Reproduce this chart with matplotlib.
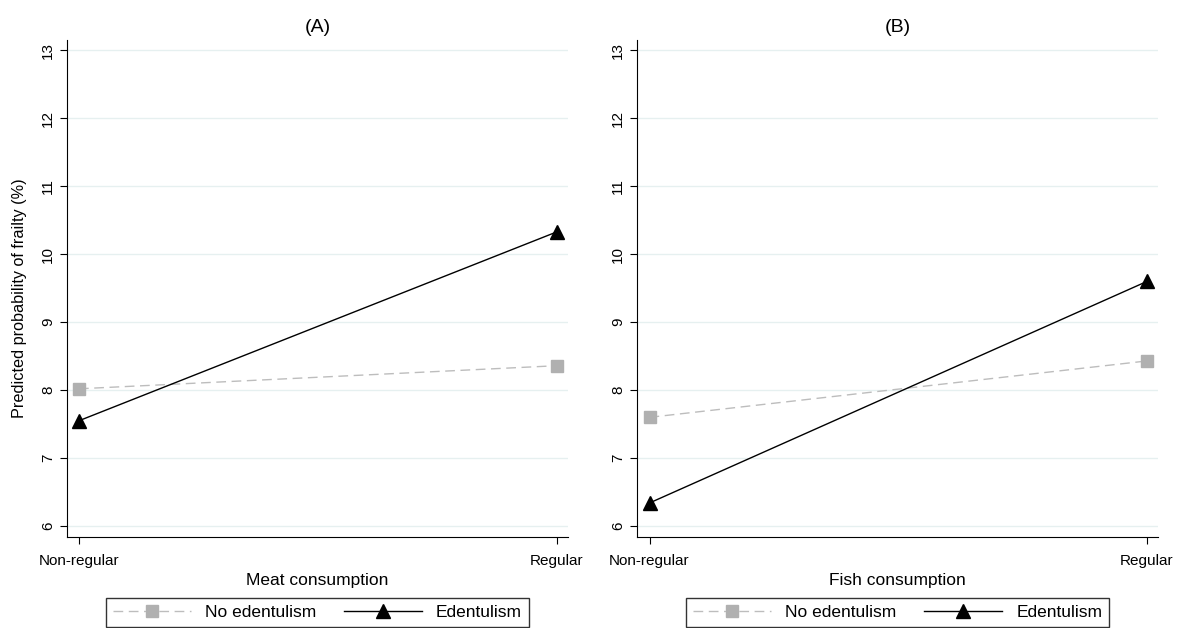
import matplotlib.pyplot as plt

plt.rcParams['font.family'] = ['Liberation Sans', 'DejaVu Sans']

categories = ['Non-regular', 'Regular']
yticks = [6, 7, 8, 9, 10, 11, 12, 13]

# predicted probability of frailty (%)
meat_no_edent = [8.02, 8.36]
meat_edent = [7.55, 10.33]
fish_no_edent = [7.60, 8.43]
fish_edent = [6.34, 9.60]

panels = [
    ('(A)', 'Meat consumption', meat_no_edent, meat_edent),
    ('(B)', 'Fish consumption', fish_no_edent, fish_edent),
]

fig = plt.figure(figsize=(11.82, 6.28), dpi=100)
axes = [fig.add_axes([0.0567, 0.145, 0.4238, 0.791]),
        fig.add_axes([0.539, 0.145, 0.441, 0.791])]

x = [0, 1]
for i, (ax, (title, xlabel, no_e, e)) in enumerate(zip(axes, panels)):
    ax.plot(x, no_e, color='#bdbdbd', ls=(0, (7, 4)), lw=1.0, marker='s',
            markersize=9, markerfacecolor='#b0b0b0', markeredgecolor='#b0b0b0',
            label='No edentulism', zorder=3)
    ax.plot(x, e, color='black', lw=1.0, marker='^', markersize=10,
            label='Edentulism', zorder=4)
    ax.set_xlim(-0.025, 1.023)
    ax.set_ylim(5.84, 13.15)
    ax.set_yticks(yticks)
    ax.set_xticks(x)
    ax.set_xticklabels(categories, fontsize=11)
    ax.tick_params(axis='y', labelrotation=90, labelsize=11, length=5)
    ax.tick_params(axis='x', length=5, pad=7)
    for lbl in ax.get_yticklabels():
        lbl.set_va('center')
    ax.grid(axis='y', color='#e6f0f0', lw=1.0)
    ax.set_axisbelow(True)
    for s in ['top', 'right']:
        ax.spines[s].set_visible(False)
    ax.set_title(title, fontsize=14, pad=6)
    ax.set_xlabel(xlabel, fontsize=12.5, labelpad=4)
    if i == 0:
        ax.set_ylabel('Predicted probability of frailty (%)', fontsize=11.7)
        ax.yaxis.set_label_coords(-0.08, 0.48)

    leg = ax.legend(loc='upper center', bbox_to_anchor=(0.5, -0.105), ncol=2,
                    fontsize=12.5, frameon=True, fancybox=False, handlelength=4.5,
                    columnspacing=1.6, borderpad=0.4, edgecolor='black')
    leg.get_frame().set_linewidth(1.0)

fig.savefig('out.png', dpi=100)
